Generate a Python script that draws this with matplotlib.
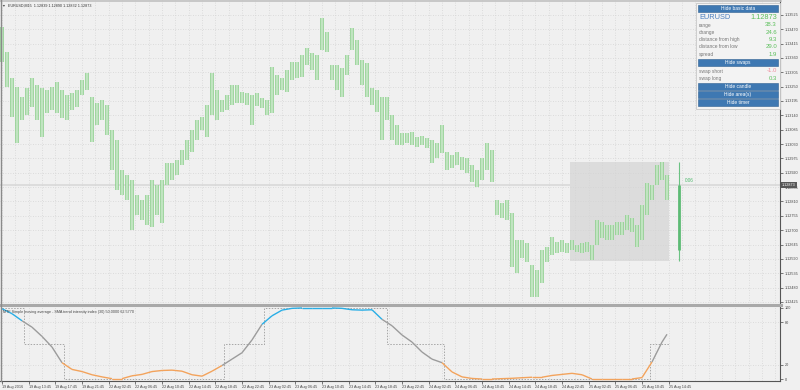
import numpy as np
import matplotlib
matplotlib.use('Agg')
import matplotlib.pyplot as plt
from matplotlib.collections import LineCollection
from matplotlib.patches import Rectangle

# EURUSD M15 bars (one drawn bar per 3 M15 bars), high / low
highs = [1.13479, 1.13383, 1.13283, 1.13249, 1.13211, 1.13245, 1.13283, 1.13256, 1.13245, 1.13237,
         1.13249, 1.13268, 1.13237, 1.13218, 1.13226, 1.13237, 1.13276, 1.13302, 1.13211, 1.13188,
         1.13199, 1.13180, 1.13084, 1.13046, 1.12931, 1.12912, 1.12893, 1.12835, 1.12816, 1.12835,
         1.12893, 1.12873, 1.12893, 1.12958, 1.12958, 1.12969, 1.13008, 1.13046, 1.13084, 1.13122,
         1.13134, 1.13180, 1.13302, 1.13237, 1.13199, 1.13218, 1.13256, 1.13256, 1.13230, 1.13226,
         1.13218, 1.13226, 1.13207, 1.13199, 1.13325, 1.13295, 1.13283, 1.13314, 1.13345, 1.13345,
         1.13371, 1.13398, 1.13379, 1.13371, 1.13513, 1.13459, 1.13333, 1.13333, 1.13322, 1.13371,
         1.13475, 1.13429, 1.13352, 1.13341, 1.13245, 1.13237, 1.13211, 1.13211, 1.13142, 1.13103,
         1.13073, 1.13073, 1.13076, 1.13057, 1.13061, 1.13053, 1.13046, 1.13034, 1.13103, 1.13000,
         1.12988, 1.13000, 1.12981, 1.12977, 1.12950, 1.12931, 1.12977, 1.13034, 1.13008, 1.12816,
         1.12805, 1.12816, 1.12766, 1.12663, 1.12663, 1.12651, 1.12567, 1.12548, 1.12625, 1.12636,
         1.12674, 1.12655, 1.12663, 1.12651, 1.12663, 1.12644, 1.12651, 1.12655, 1.12644, 1.12739,
         1.12732, 1.12720, 1.12720, 1.12732, 1.12732, 1.12759, 1.12747, 1.12720, 1.12797, 1.12881,
         1.12873, 1.12950, 1.12962, 1.12912]
lows = [1.13345, 1.13249, 1.13134, 1.13034, 1.13122, 1.13142, 1.13172, 1.13122, 1.13057, 1.13149,
        1.13161, 1.13149, 1.13130, 1.13122, 1.13161, 1.13172, 1.13218, 1.13237, 1.13038, 1.13103,
        1.13122, 1.13065, 1.12931, 1.12854, 1.12835, 1.12816, 1.12701, 1.12759, 1.12739, 1.12720,
        1.12713, 1.12759, 1.12728, 1.12873, 1.12893, 1.12912, 1.12950, 1.12969, 1.13000, 1.13046,
        1.13084, 1.13057, 1.13142, 1.13122, 1.13153, 1.13161, 1.13180, 1.13188, 1.13188, 1.13180,
        1.13103, 1.13176, 1.13168, 1.13142, 1.13149, 1.13218, 1.13237, 1.13230, 1.13276, 1.13283,
        1.13287, 1.13333, 1.13314, 1.13276, 1.13391, 1.13383, 1.13276, 1.13237, 1.13211, 1.13295,
        1.13391, 1.13333, 1.13256, 1.13211, 1.13180, 1.13153, 1.13046, 1.13122, 1.13046, 1.13027,
        1.13027, 1.13034, 1.13027, 1.13019, 1.13027, 1.13015, 1.12958, 1.12977, 1.12996, 1.12931,
        1.12939, 1.12950, 1.12931, 1.12920, 1.12885, 1.12866, 1.12893, 1.12931, 1.12885, 1.12759,
        1.12747, 1.12739, 1.12559, 1.12536, 1.12594, 1.12579, 1.12445, 1.12445, 1.12498, 1.12579,
        1.12605, 1.12613, 1.12617, 1.12613, 1.12625, 1.12617, 1.12613, 1.12617, 1.12586, 1.12644,
        1.12670, 1.12663, 1.12663, 1.12682, 1.12682, 1.12701, 1.12693, 1.12636, 1.12663, 1.12759,
        1.12816, 1.12873, 1.12893, 1.12816]
bar_step = 3

# current bar and day info
symbol = "EURUSD"
header = "EURUSD,M15  1.12839 1.12890 1.12832 1.12873"
bid = 1.12873
day_high = 1.12962
day_low = 1.12582
day_open = 1.12625
day_start = 341
day_end = 400
candle_pos = 406

# SMA trend intensity index (sampled every 6 M15 bars)
tii_x = list(range(0, 397, 6)) + [399]
tii = [99, 92, 82, 73, 60, 45, 23, 13.5, 10.5, 6,
       3, 0.5, 0.5, 4.5, 6.5, 10.5, 12, 12.5, 11, 6,
       4, 11, 19, 28, 37, 55, 77, 89, 97, 99.5,
       100, 100, 100, 100, 99.5, 97.5, 97, 97.5, 84, 75,
       62, 52, 38, 28, 23, 10, 3, 0.8, 0, 0,
       0.5, 1, 1.8, 2.5, 2.5, 5, 6.5, 8, 6, 0,
       0, 0, 0, 0, 2, 24, 52, 63]
mtf_edges = [0, 13, 37, 133, 157, 231, 265, 389, 400]
mtf_levels = [100, 50, 0, 50, 100, 50, 0, 50]

time_labels = ["19 Aug 2016", "19 Aug 13:45", "19 Aug 17:45", "19 Aug 21:45",
               "22 Aug 02:45", "22 Aug 06:45", "22 Aug 10:45", "22 Aug 14:45", "22 Aug 18:45", "22 Aug 22:45",
               "23 Aug 02:45", "23 Aug 06:45", "23 Aug 10:45", "23 Aug 14:45", "23 Aug 18:45", "23 Aug 22:45",
               "24 Aug 02:45", "24 Aug 06:45", "24 Aug 10:45", "24 Aug 14:45", "24 Aug 18:45", "24 Aug 22:45",
               "25 Aug 02:45", "25 Aug 06:45", "25 Aug 10:45", "25 Aug 14:45"]
price_labels = ["1.12425", "1.12480", "1.12535", "1.12590", "1.12645", "1.12700", "1.12755",
                "1.12810", "1.12865", "1.12920", "1.12975", "1.13030", "1.13085", "1.13140",
                "1.13195", "1.13250", "1.13305", "1.13360", "1.13415", "1.13470", "1.13525"]

info_names = ["range", "change", "distance from high", "distance from low", "spread"]
info_values = ["38.3", "24.6", "9.3", "29.0", "1.9"]
swap_names = ["swap short", "swap long"]
swap_values = ["-1.0", "0.3"]

plt.rcParams['font.family'] = ['Liberation Sans', 'DejaVu Sans']

BG = '#f0f0f0'
GRID = '#d4d4d4'
FS = 2.7

fig = plt.figure(figsize=(8, 3.9), dpi=100, facecolor=BG)
W, H = 800.0, 390.0

ax = fig.add_axes([0, 1 - 303 / H, 780 / W, 303 / H], facecolor=BG)
ax2 = fig.add_axes([0, 1 - 381 / H, 780 / W, 75 / H], facecolor=BG)

xlim = (-1.2, 466.8)

# ---- main price chart ----
bx = np.arange(len(highs)) * bar_step
ax.add_patch(Rectangle((day_start, day_low), day_end - day_start, day_high - day_low,
                       facecolor='#dcdcdc', edgecolor='none', zorder=1))
ax.axhline(bid, color='#dadada', lw=1.3, zorder=0.8)
ax.vlines(bx, lows, highs, color='#8fd08f', lw=2.6, zorder=2)
ax.vlines(bx, lows, highs, color='#d0ebd0', lw=1.1, zorder=3)
# daily candle on the right
ax.vlines([candle_pos], [day_low], [day_high], color='#6cc283', lw=0.8, zorder=3)
ax.vlines([candle_pos], [day_open], [bid], color='#5dbb75', lw=2.0, zorder=3)
ax.text(candle_pos + 4, bid + 0.00018, "0:06", color='#4cb86a', fontsize=3.3, va='center')

pt = [float(p) for p in price_labels]
ax.set_yticks(pt)
ax.set_yticklabels(price_labels)
ax.set_ylim(1.12421, 1.13582)
ax.set_xlim(*xlim)
ax.set_xticks(np.arange(0, 467, 8))
ax.tick_params(axis='x', length=0, labelbottom=False)
ax.yaxis.tick_right()
ax.tick_params(axis='y', length=2, width=0.5, labelsize=FS, pad=1.2, colors='#444444')
ax.grid(True, ls=(0, (1, 2)), color=GRID, lw=0.6)
for s in ['top', 'left', 'bottom']:
    ax.spines[s].set_visible(False)
ax.spines['right'].set_color('#555555')
ax.spines['right'].set_linewidth(0.8)
ax.annotate("1.12873", xy=(1.0, bid), xycoords=('axes fraction', 'data'),
            xytext=(1.5, 0), textcoords='offset points', fontsize=FS, color='white',
            va='center', ha='left',
            bbox=dict(boxstyle='square,pad=0.2', fc='#585858', ec='none'))

# ---- indicator panel ----
tx = np.array(tii_x, dtype=float)
ty = np.array(tii, dtype=float)
segs = [[(tx[i], ty[i]), (tx[i + 1], ty[i + 1])] for i in range(len(tx) - 1)]
cols = []
for i in range(len(tx) - 1):
    m = (ty[i] + ty[i + 1]) / 2
    if m >= 80:
        cols.append('#29aee6')
    elif m <= 20:
        cols.append('#f3a35c')
    else:
        cols.append('#9c9c9c')
ax2.add_collection(LineCollection(segs, colors=cols, linewidths=1.0, zorder=3))
ax2.plot(mtf_edges, mtf_levels + [mtf_levels[-1]], drawstyle='steps-post',
         ls=(0, (1.5, 1.5)), color='#a6a6a6', lw=0.7, zorder=2)
ax2.text(0.004, 0.95, "MTF Simple moving average - SMA trend intensity index (30) 50.0000 62.5770",
         transform=ax2.transAxes, fontsize=FS, color='#444444', va='top', ha='left')

ax2.set_xlim(*xlim)
ax2.set_ylim(-2.8, 102.8)
ax2.set_yticks([0, 20, 80, 100])
ax2.set_yticklabels(["0", "20", "80", "100"])
ax2.yaxis.tick_right()
ax2.tick_params(axis='y', length=2, width=0.5, labelsize=FS, pad=1.2, colors='#444444')
ax2.set_xticks(np.arange(0, 401, 16))
ax2.set_xticklabels(time_labels)
ax2.set_xticks(np.arange(0, 467, 8), minor=True)
ax2.tick_params(axis='x', which='major', length=2, width=0.5, labelsize=FS, pad=0.8, colors='#444444')
ax2.tick_params(axis='x', which='minor', length=0)
for lab in ax2.get_xticklabels():
    lab.set_ha('left')
ax2.grid(True, which='both', axis='x', ls=(0, (1, 2)), color=GRID, lw=0.6)
ax2.yaxis.grid(False)
for v in [20, 80]:
    ax2.axhline(v, ls=(0, (1, 2)), color=GRID, lw=0.6, zorder=1)
ax2.spines['top'].set_visible(False)
ax2.spines['left'].set_visible(False)
ax2.spines['right'].set_color('#555555')
ax2.spines['right'].set_linewidth(0.8)
ax2.spines['bottom'].set_color('#555555')
ax2.spines['bottom'].set_linewidth(0.8)

# ---- overlay: header, separator, info panel ----
ov = fig.add_axes([0, 0, 1, 1], facecolor='none')
ov.set_xlim(0, W)
ov.set_ylim(H, 0)
ov.axis('off')
ov.plot([0, 781], [304.5, 304.5], color='#a9a9a9', lw=2.2)
ov.plot([0, 781], [1, 1], color='#c0c0c0', lw=1.2)
ov.plot([0.5, 0.5], [0, 381], color='#8a8a8a', lw=1.0)
ov.text(2.5, 5.5, u"\u25be", fontsize=FS, color='#333333', va='center')
ov.text(8, 5.5, header, fontsize=FS, color='#333333', va='center')

ov.add_patch(Rectangle((696, 2.5), 84, 106, facecolor='#f3f3f3', edgecolor='#c8c8c8', lw=0.6))


def button(y0, label):
    ov.add_patch(Rectangle((698, y0), 80, 7.5, facecolor='#3e78b2', edgecolor='#2f5f90', lw=0.4))
    ov.text(738, y0 + 3.9, label, fontsize=3.5, color='white', ha='center', va='center')


button(4.5, "Hide basic data")
ov.text(699, 17.5, symbol, fontsize=5.3, color='#4a7fc0', va='center')
ov.text(777, 17.5, "1.12873", fontsize=5.3, color='#5cbf5c', va='center', ha='right')
for k, (n, v) in enumerate(zip(info_names, info_values)):
    yy = 25 + 7.3 * k
    ov.text(699, yy, n, fontsize=3.5, color='#777777', va='center')
    ov.text(777, yy, v, fontsize=4.3, color='#5cbf5c', va='center', ha='right')
button(58.5, "Hide swaps")
swap_cols = ['#f08a9a', '#5cbf5c']
for k, (n, v) in enumerate(zip(swap_names, swap_values)):
    yy = 71 + 7.5 * k
    ov.text(699, yy, n, fontsize=3.5, color='#777777', va='center')
    ov.text(777, yy, v, fontsize=4.3, color=swap_cols[k], va='center', ha='right')
button(82.5, "Hide candle")
button(90.5, "Hide area(s)")
button(98.5, "Hide timer")

fig.savefig('out.png', dpi=100, facecolor=BG)
